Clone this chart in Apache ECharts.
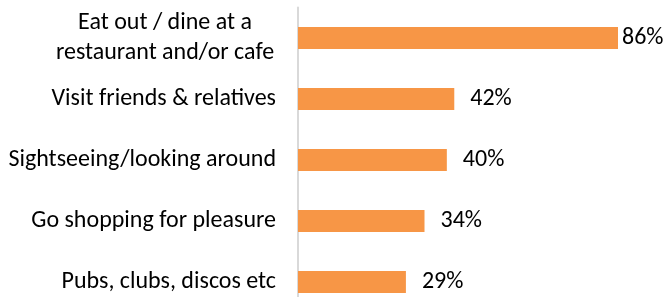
<!DOCTYPE html>
<html>
<head>
<meta charset="utf-8">
<script src="https://cdn.jsdelivr.net/npm/echarts@6/dist/echarts.min.js"></script>
<style>
  html, body { margin: 0; padding: 0; background: #fff; }
  #chart { width: 664px; height: 297px; }
</style>
</head>
<body>
<div id="chart"></div>
<script>
const categories = [
  'Eat out / dine at a\nrestaurant and/or cafe',
  'Visit friends & relatives',
  'Sightseeing/looking around',
  'Go shopping for pleasure',
  'Pubs, clubs, discos etc'
];
const values = [86, 42, 40, 34, 29];
// label gap differs on the top bar (it sits against the right edge)
const labelGaps = [4, 16, 16, 16, 16];

const FONT = 'Carlito, Lato, sans-serif';

const chart = echarts.init(document.getElementById('chart'));

chart.setOption({
  animation: false,
  grid: { left: 298, top: 7.5, width: 320, height: 305, outerBoundsMode: 'none' },
  xAxis: {
    type: 'value',
    min: 0,
    max: 86,
    show: false
  },
  yAxis: {
    type: 'category',
    data: categories,
    inverse: true,
    axisLine: { show: true, lineStyle: { color: '#D9D9D9', width: 2 } },
    axisTick: { show: false },
    axisLabel: {
      margin: 22,
      color: '#000',
      fontFamily: FONT,
      fontSize: 24,
      formatter: (v) => v.indexOf('\n') >= 0 ? '{c|' + v.split('\n').join('}\n{c|') + '}' : v,
      rich: {
        c: { width: 222, align: 'center', lineHeight: 30, fontSize: 24, fontFamily: FONT, color: '#000' }
      }
    }
  },
  series: [{
    type: 'bar',
    barWidth: 22,
    itemStyle: { color: '#F79646' },
    data: values.map((v, i) => ({
      value: v,
      label: { distance: labelGaps[i] }
    })),
    label: {
      show: true,
      position: 'right',
      color: '#000',
      fontFamily: FONT,
      fontSize: 24,
      formatter: '{c}%'
    }
  }]
});
</script>
</body>
</html>
